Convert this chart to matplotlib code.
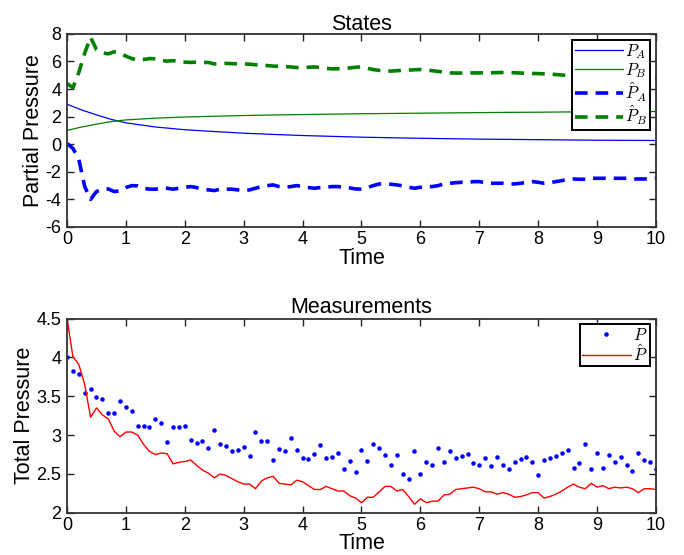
import numpy as np
import matplotlib
matplotlib.use("Agg")
import matplotlib.pyplot as plt

plt.rcParams['font.family'] = ['Liberation Sans', 'DejaVu Sans']
plt.rcParams['mathtext.fontset'] = 'cm'
plt.rcParams['axes.unicode_minus'] = False

# --- datos: estados ---
t_true = [0, 0.25, 0.5, 0.75, 1, 1.5, 2, 2.5, 3, 3.5, 4, 4.5, 5, 5.5, 6, 6.5, 7, 7.5, 8, 8.5, 9, 9.5, 10]
pa_true = [2.90, 2.48, 2.13, 1.80, 1.55, 1.25, 1.05, 0.92, 0.80, 0.71, 0.63, 0.57, 0.51, 0.47, 0.43, 0.40,
           0.37, 0.35, 0.33, 0.31, 0.29, 0.28, 0.27]
pb_true = [1.00, 1.25, 1.45, 1.64, 1.76, 1.89, 1.97, 2.03, 2.08, 2.12, 2.15, 2.18, 2.21, 2.23, 2.25, 2.27,
           2.29, 2.31, 2.32, 2.34, 2.35, 2.36, 2.37]

t_est = np.arange(101) / 10
pa_est = [0.05, -0.30, -1.10, -3.07, -4.00, -3.43, -3.26, -3.24, -3.43, -3.38,
          -3.14, -3.00, -3.02, -3.19, -3.26, -3.26, -3.19, -3.19, -3.26, -3.19,
          -3.12, -3.07, -3.14, -3.26, -3.31, -3.36, -3.26, -3.26, -3.26, -3.31,
          -3.36, -3.31, -3.19, -3.07, -3.00, -2.95, -3.07, -3.12, -3.07, -3.00,
          -3.07, -3.14, -3.19, -3.14, -3.12, -3.07, -3.07, -3.12, -3.17, -3.24,
          -3.26, -3.14, -3.00, -2.88, -2.88, -2.90, -2.95, -3.02, -3.12, -3.19,
          -3.12, -3.07, -3.07, -3.00, -2.88, -2.83, -2.79, -2.76, -2.79, -2.71,
          -2.71, -2.79, -2.83, -2.83, -2.83, -2.88, -2.88, -2.83, -2.77, -2.71,
          -2.76, -2.83, -2.79, -2.71, -2.64, -2.54, -2.52, -2.54, -2.54, -2.47,
          -2.47, -2.47, -2.47, -2.47, -2.47, -2.47, -2.52, -2.52, -2.52, -2.50, -2.47]
pb_est = [4.40, 4.10, 5.20, 6.60, 7.75, 6.86, 6.62, 6.55, 6.70, 6.62,
          6.38, 6.21, 6.09, 6.14, 6.21, 6.19, 6.07, 6.02, 6.06, 5.97,
          5.95, 5.93, 5.95, 5.92, 5.93, 5.82, 5.84, 5.86, 5.84, 5.83,
          5.82, 5.80, 5.76, 5.73, 5.70, 5.66, 5.65, 5.63, 5.60, 5.56,
          5.53, 5.58, 5.60, 5.56, 5.50, 5.46, 5.47, 5.50, 5.53, 5.58,
          5.60, 5.50, 5.41, 5.35, 5.31, 5.30, 5.33, 5.36, 5.37, 5.40,
          5.41, 5.37, 5.33, 5.28, 5.22, 5.17, 5.16, 5.16, 5.17, 5.17,
          5.17, 5.18, 5.18, 5.19, 5.20, 5.20, 5.18, 5.16, 5.14, 5.13,
          5.12, 5.10, 5.08, 5.05, 5.02, 4.98, 4.81, 4.80, 4.82, 4.84,
          4.85, 4.84, 4.82, 4.80, 4.81, 4.83, 4.84, 4.82, 4.80, 4.79, 4.80]

# --- datos: mediciones ---
p_meas = [4.01, 3.83, 3.79, 3.54, 3.59, 3.49, 3.47, 3.28, 3.28, 3.44,
          3.36, 3.31, 3.12, 3.12, 3.11, 3.21, 3.16, 2.91, 3.11, 3.10,
          3.12, 2.94, 2.90, 2.93, 2.83, 3.06, 2.89, 2.86, 2.80, 2.81,
          2.85, 2.73, 3.04, 2.93, 2.93, 2.68, 2.82, 2.79, 2.96, 2.81,
          2.71, 2.69, 2.76, 2.87, 2.70, 2.72, 2.77, 2.57, 2.67, 2.52,
          2.81, 2.67, 2.89, 2.83, 2.74, 2.62, 2.75, 2.50, 2.43, 2.80,
          2.50, 2.66, 2.62, 2.83, 2.66, 2.80, 2.71, 2.73, 2.76, 2.64,
          2.62, 2.70, 2.60, 2.72, 2.61, 2.57, 2.65, 2.69, 2.72, 2.65,
          2.49, 2.68, 2.70, 2.73, 2.77, 2.81, 2.58, 2.64, 2.89, 2.56,
          2.77, 2.58, 2.74, 2.65, 2.72, 2.61, 2.54, 2.77, 2.68, 2.65, 2.56]
p_est = [4.50, 4.01, 3.91, 3.65, 3.23, 3.35, 3.26, 3.21, 3.05, 2.98,
         3.04, 3.04, 3.00, 2.88, 2.79, 2.75, 2.77, 2.76, 2.63, 2.65,
         2.66, 2.68, 2.61, 2.55, 2.51, 2.45, 2.50, 2.48, 2.44, 2.40,
         2.37, 2.37, 2.31, 2.41, 2.45, 2.47, 2.38, 2.37, 2.36, 2.42,
         2.40, 2.35, 2.30, 2.30, 2.34, 2.31, 2.28, 2.28, 2.22, 2.19,
         2.13, 2.20, 2.20, 2.27, 2.34, 2.34, 2.28, 2.30, 2.21, 2.11,
         2.18, 2.13, 2.15, 2.15, 2.23, 2.24, 2.30, 2.31, 2.32, 2.33,
         2.31, 2.27, 2.27, 2.24, 2.26, 2.24, 2.20, 2.21, 2.23, 2.26,
         2.26, 2.19, 2.21, 2.24, 2.28, 2.33, 2.37, 2.33, 2.31, 2.38,
         2.33, 2.35, 2.31, 2.33, 2.32, 2.33, 2.31, 2.26, 2.31, 2.31, 2.30]

fig = plt.figure(figsize=(6.84, 5.55), dpi=100)
ax1 = fig.add_axes([0.098, 0.591, 0.861, 0.348])
ax2 = fig.add_axes([0.098, 0.076, 0.861, 0.350])

# Estados
ax1.plot(t_true, pa_true, color='blue', lw=0.9, label=r'$P_A$')
ax1.plot(t_true, pb_true, color='green', lw=0.9, label=r'$P_B$')
ax1.plot(t_est, pa_est, '--', color='blue', lw=2.6, dashes=(3.5, 2.2), label=r'$\hat{P}_A$')
ax1.plot(t_est, pb_est, '--', color='green', lw=2.6, dashes=(3.5, 2.2), label=r'$\hat{P}_B$')
ax1.set_xlim(0, 10)
ax1.set_ylim(-6, 8)
ax1.set_yticks(np.arange(-6, 9, 2))
ax1.set_title('States', fontsize=15.5, pad=3)
ax1.set_xlabel('Time', fontsize=15.5, labelpad=0)
ax1.set_ylabel('Partial Pressure', fontsize=15.5, labelpad=1)

# Mediciones
ax2.plot(t_est, p_meas, '.', color='blue', ms=4.5, label=r'$P$')
ax2.plot(t_est, p_est, color='red', lw=1.0, label=r'$\hat{P}$')
ax2.set_xlim(0, 10)
ax2.set_ylim(2, 4.5)
ax2.set_yticks([2, 2.5, 3, 3.5, 4, 4.5])
ax2.set_yticklabels(['2', '2.5', '3', '3.5', '4', '4.5'])
ax2.set_title('Measurements', fontsize=15.5, pad=4)
ax2.set_xlabel('Time', fontsize=15.5, labelpad=-1)
ax2.set_ylabel('Total Pressure', fontsize=15.5, labelpad=1)

for ax in (ax1, ax2):
    ax.set_xticks(range(0, 11))
    ax.tick_params(direction='in', top=True, right=True, length=5, width=1,
                   labelsize=13, colors='#222222', labelcolor='black')
    ax.tick_params(axis='x', pad=3)
    ax.tick_params(axis='y', pad=4)
    for s in ax.spines.values():
        s.set_linewidth(1.3)
        s.set_color('#333333')
    leg = ax.legend(loc='upper right', fontsize=12, fancybox=False, framealpha=1,
                    edgecolor='black', handlelength=2.9, borderpad=0.15,
                    labelspacing=0.0, handletextpad=0.15, borderaxespad=0.35)
    leg.get_frame().set_linewidth(1.4)

fig.savefig('out.png', dpi=100)
